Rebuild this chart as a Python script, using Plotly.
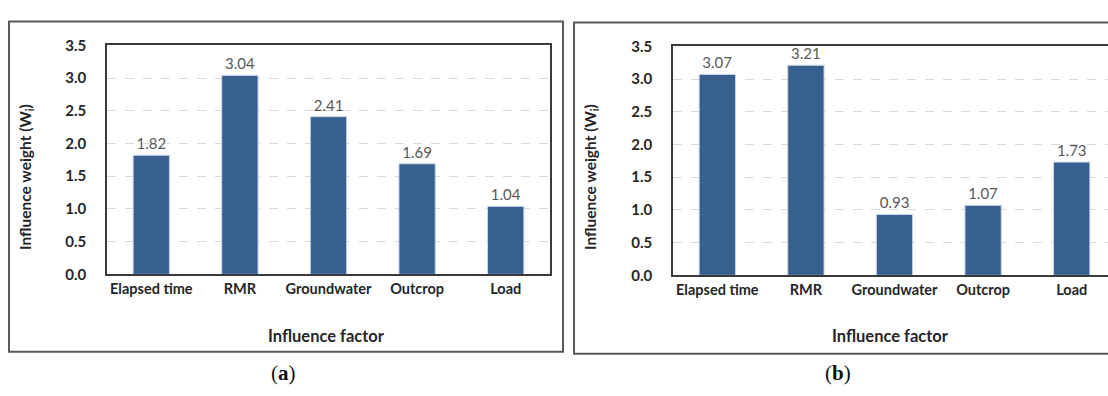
import plotly.graph_objects as go

categories = ["Elapsed time", "RMR", "Groundwater", "Outcrop", "Load"]
weights_a = [1.82, 3.04, 2.41, 1.69, 1.04]
weights_b = [3.07, 3.21, 0.93, 1.07, 1.73]
y_ticks = [0.0, 0.5, 1.0, 1.5, 2.0, 2.5, 3.0, 3.5]
y_tick_text = ["0.0", "0.5", "1.0", "1.5", "2.0", "2.5", "3.0", "3.5"]
x_title = "Influence factor"
y_title = "Influence weight (W<sub>i</sub>)"

W, H = 1108, 396
FONT = "Lato"
BAR = "#37608f"
DARK = "#262626"

def px(x):
    return x / W

def py(y):
    return 1 - y / H

fig = go.Figure()
for i, vals in enumerate([weights_a, weights_b]):
    xa = "x" if i == 0 else "x2"
    ya = "y" if i == 0 else "y2"
    fig.add_trace(go.Bar(
        x=categories, y=vals, xaxis=xa, yaxis=ya, width=0.41,
        marker=dict(color=BAR, line=dict(color="#c9d6ea", width=1)),
        texttemplate="%{y:.2f}", textposition="outside", cliponaxis=False,
        textfont=dict(family=FONT, size=15, color="#595959"),
        showlegend=False, hoverinfo="skip",
    ))

slot = (550 - 107) / 5.0
common_x = dict(
    type="category", showgrid=False, showline=True, linecolor="#3a3a3a", linewidth=1.5,
    ticks="", tickfont=dict(family=FONT, size=14.5, color=DARK, weight="bold"),
    fixedrange=True,
)
common_y = dict(
    range=[0, 3.5], tickvals=y_ticks, ticktext=y_tick_text,
    showgrid=True, gridcolor="#d9d9d9", gridwidth=1.3, griddash="dash",
    showline=True, linecolor="#3a3a3a", linewidth=1.5, zeroline=False,
    tickfont=dict(family=FONT, size=15, color=DARK, weight="bold"), ticklabelstandoff=16,
    fixedrange=True,
)

fig.update_layout(
    width=W, height=H, margin=dict(l=0, r=0, t=0, b=0),
    plot_bgcolor="white", paper_bgcolor="white",
    xaxis=dict(common_x, domain=[px(107), px(550)], range=[-0.5, 4.5], mirror=True, anchor="y"),
    yaxis=dict(common_y, domain=[py(277), py(37)], mirror=True, anchor="x"),
    xaxis2=dict(common_x, domain=[px(673), 1.0], range=[-0.5, -0.5 + (W - 673) / slot], mirror=True, anchor="y2"),
    yaxis2=dict(common_y, domain=[py(278), py(38)], mirror=False, anchor="x2"),
)

# outer panel frames
fig.add_shape(type="rect", xref="paper", yref="paper", x0=px(9), x1=px(563), y0=py(358), y1=py(12),
              line=dict(color="#5a5a5a", width=2))
fig.add_shape(type="rect", xref="paper", yref="paper", x0=px(574), x1=px(1112), y0=py(360), y1=py(13),
              line=dict(color="#5a5a5a", width=2))

# axis titles
for xc, yc in [(326, 341), (890, 342)]:
    fig.add_annotation(text="<b>%s</b>" % x_title, xref="paper", yref="paper", x=px(xc), y=py(yc),
                       showarrow=False, font=dict(family=FONT, size=16.5, color=DARK),
                       xanchor="center", yanchor="middle")
for xc, yc in [(26, 175), (591, 175)]:
    fig.add_annotation(text="<b>%s</b>" % y_title, xref="paper", yref="paper", x=px(xc), y=py(yc),
                       showarrow=False, textangle=-90, font=dict(family=FONT, size=15.5, color=DARK),
                       xanchor="center", yanchor="middle")

for label, xc in [("a", 283), ("b", 838)]:
    fig.add_annotation(text="(<b>%s</b>)" % label, xref="paper", yref="paper", x=px(xc), y=py(380),
                       showarrow=False, font=dict(family="Liberation Serif", size=21, color="#111111"),
                       xanchor="center", yanchor="middle")

post = (
    "var d=document.getElementById('{plot_id}');"
    "d.style.position='fixed';d.style.top='0px';d.style.left='0px';"
    "document.documentElement.style.margin='0';document.body.style.margin='0';"
    "document.documentElement.style.overflow='hidden';document.body.style.overflow='hidden';"
)
fig.write_html("out.html", config={"displayModeBar": False, "responsive": False}, post_script=post)
